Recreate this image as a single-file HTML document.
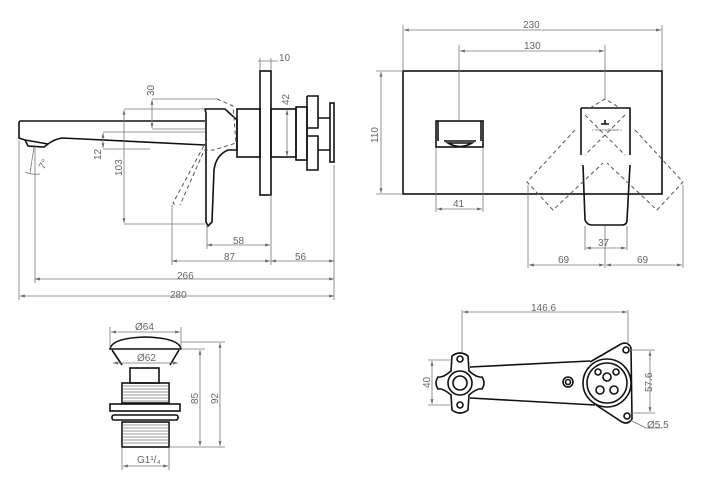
<!DOCTYPE html>
<html><head><meta charset="utf-8"><style>
html,body{margin:0;padding:0;background:#fff;width:720px;height:479px;overflow:hidden}
svg{display:block}
.o{fill:none;stroke:#111;stroke-width:1.6}
.d{fill:none;stroke:#777;stroke-width:0.8}
.h{fill:none;stroke:#555;stroke-width:1;stroke-dasharray:4,3}
text{font-family:"Liberation Sans",sans-serif;font-size:10px;fill:#666}
</style></head><body>
<svg width="720" height="479" viewBox="0 0 720 479">
<defs><marker id="a" viewBox="0 0 10 10" refX="10" refY="5" markerWidth="6" markerHeight="6" orient="auto-start-reverse"><path d="M0,2 L10,5 L0,8" fill="#666"/></marker></defs>

<!-- SIDE VIEW -->
<path class="o" d="M205,121 L21,121 Q19,121 19,123 L19,138 L25,140 L28,146 L44,147 L48,144 Q55,139 62,138 L205,145"/>
<path class="o" d="M25,140 L48,144"/>
<path class="o" d="M205,109 L225,109 L237,120 L237,150 L228,150 Q216,155 214,170 L212,222 L208,226 L206,222 L206,113 Z"/>
<rect class="o" x="237" y="109" width="23" height="48"/>
<rect class="o" x="260" y="71" width="11" height="124"/>
<rect class="o" x="271" y="109" width="25" height="48"/>
<rect class="o" x="296" y="107" width="11" height="53"/>
<path class="o" d="M307,96 L318,96 L318,128 L307,128 M307,136 L318,136 L318,170 L307,170 Z M307,96 L307,170"/>
<path class="o" d="M318,118 L330,118 M318,150 L330,150"/>
<rect class="o" x="330" y="103" width="4" height="59"/>
<path class="h" d="M217,99 L233,106 L236,143 L214,150 L204,150 M207,140 L173,203 L177,207 M203,153 L180,205"/>
<path class="d" d="M19,140 V300 M35,145 V283 M334,165 V300 M271,195 V265 M207,225 V249 M172,205 V265 M260,58 V70 M271,58 V70 M124,109 H205 M124,224 H205 M152,99 H217 M152,129 H205 M103,132 H205 M103,149 H150"/>
<line class="d" x1="20" y1="296" x2="334" y2="296" marker-start="url(#a)" marker-end="url(#a)"/>
<line class="d" x1="35" y1="279" x2="334" y2="279" marker-start="url(#a)" marker-end="url(#a)"/>
<line class="d" x1="172" y1="261" x2="270" y2="261" marker-start="url(#a)" marker-end="url(#a)"/>
<line class="d" x1="271" y1="261" x2="334" y2="261" marker-start="url(#a)" marker-end="url(#a)"/>
<line class="d" x1="207" y1="245" x2="270" y2="245" marker-start="url(#a)" marker-end="url(#a)"/>
<line class="d" x1="124" y1="110" x2="124" y2="223" marker-start="url(#a)" marker-end="url(#a)"/>
<line class="d" x1="152" y1="100" x2="152" y2="128" marker-start="url(#a)" marker-end="url(#a)"/>
<line class="d" x1="103" y1="133" x2="103" y2="148" marker-start="url(#a)" marker-end="url(#a)"/>
<line class="d" x1="287" y1="110" x2="287" y2="156" marker-start="url(#a)" marker-end="url(#a)"/>
<line class="d" x1="258" y1="61" x2="278" y2="61"/>
<path class="d" d="M34,147 L30,173 M25,172 Q32,175 40,174"/>
<text x="170" y="298">280</text>
<text x="177" y="279">266</text>
<text x="224" y="260">87</text>
<text x="295" y="260">56</text>
<text x="233" y="244">58</text>
<text x="279" y="61">10</text>
<text x="44" y="170" font-size="9" transform="rotate(-60 44 170)">7°</text>
<text transform="translate(122,176) rotate(-90)">103</text>
<text transform="translate(154,96) rotate(-90)">30</text>
<text transform="translate(101,160) rotate(-90)">12</text>
<text transform="translate(289,105) rotate(-90)">42</text>

<!-- FRONT VIEW -->
<rect class="o" x="403" y="71" width="259" height="123"/>
<rect class="o" x="436" y="121" width="47" height="26"/>
<path class="o" d="M438,121 V141 M481,121 V141 M444,141 H476 M448,143 Q460,150 472,143 Z"/>
<path class="o" d="M581,108 H630 V155 M581,108 V155 M583,165 L585,220 Q587,225 592,225 L622,225 Q627,225 627,220 L630,165"/>
<path class="h" d="M590,108 L605,99 L620,108 M575,130 L527,182 L553,210 L603,163 M635,130 L683,182 L657,210 L607,163 M585,115 L625,155 M625,115 L585,155"/>
<g transform="translate(592,131) scale(0.4)"><text x="0" y="0" font-size="10" fill="#222">• Villeroy&amp;Boch •</text></g>
<path class="o" d="M601,124 H609 M605,120 V124" stroke-width="1"/>
<path class="d" d="M403,25 V70 M662,25 V70 M459,45 V120 M605,45 V100 M376,71 H403 M376,194 H403 M436,148 V212 M483,148 V212 M585,226 V250 M627,226 V250 M528,185 V268 M683,185 V268 M605,226 V268"/>
<line class="d" x1="404" y1="30" x2="661" y2="30" marker-start="url(#a)" marker-end="url(#a)"/>
<line class="d" x1="460" y1="51" x2="604" y2="51" marker-start="url(#a)" marker-end="url(#a)"/>
<line class="d" x1="381" y1="72" x2="381" y2="193" marker-start="url(#a)" marker-end="url(#a)"/>
<line class="d" x1="437" y1="209" x2="482" y2="209" marker-start="url(#a)" marker-end="url(#a)"/>
<line class="d" x1="586" y1="248" x2="626" y2="248" marker-start="url(#a)" marker-end="url(#a)"/>
<line class="d" x1="529" y1="265" x2="604" y2="265" marker-start="url(#a)" marker-end="url(#a)"/>
<line class="d" x1="606" y1="265" x2="682" y2="265" marker-start="url(#a)" marker-end="url(#a)"/>
<text x="523" y="28">230</text>
<text x="524" y="49">130</text>
<text x="453" y="207">41</text>
<text x="598" y="246">37</text>
<text x="558" y="263">69</text>
<text x="637" y="263">69</text>
<text transform="translate(378,143) rotate(-90)">110</text>

<!-- WASTE -->
<path class="o" d="M110,349 Q112,338 145,337 Q179,338 181,349 Z"/>
<path class="o" d="M112,350 L122,365 M179,350 L170,365"/>
<rect class="o" x="130" y="368" width="29" height="15"/>
<rect class="o" x="122" y="383" width="47" height="20"/>
<rect class="o" x="110" y="404" width="70" height="7"/>
<rect class="o" x="112" y="415" width="66" height="5" rx="2"/>
<rect class="o" x="122" y="422" width="47" height="25"/>
<path class="d" d="M122,386H169M122,389H169M122,392H169M122,395H169M122,398H169M122,401H169M122,425H169M122,428H169M122,431H169M122,434H169M122,437H169M122,440H169M122,443H169"/>
<path class="d" d="M110,327 V348 M181,327 V348 M181,342 H225 M181,349 H205 M169,447 H225 M122,448 V470 M169,448 V470"/>
<line class="d" x1="111" y1="332" x2="180" y2="332" marker-start="url(#a)" marker-end="url(#a)"/>
<line class="d" x1="113" y1="363" x2="178" y2="363" marker-start="url(#a)" marker-end="url(#a)"/>
<line class="d" x1="200" y1="350" x2="200" y2="446" marker-start="url(#a)" marker-end="url(#a)"/>
<line class="d" x1="220" y1="343" x2="220" y2="446" marker-start="url(#a)" marker-end="url(#a)"/>
<line class="d" x1="123" y1="466" x2="168" y2="466" marker-start="url(#a)" marker-end="url(#a)"/>
<text x="135" y="330">Ø64</text>
<text x="137" y="361">Ø62</text>
<text x="137" y="463">G1¹/₄</text>
<text transform="translate(198,404) rotate(-90)">85</text>
<text transform="translate(218,404) rotate(-90)">92</text>

<!-- BRACKET -->
<path class="o" d="M451,371 Q443,378 438,377 Q434,383 438,389 Q443,388 451,395 L452,410 Q460,416 468,410 L469,395 Q477,388 482,389 Q486,383 482,377 Q477,378 469,371 L468,356 Q460,350 452,356 Z"/>
<circle class="o" cx="460" cy="359" r="3"/>
<circle class="o" cx="460" cy="405" r="3"/>
<circle class="o" cx="460" cy="383" r="12"/>
<circle class="o" cx="460" cy="383" r="7"/>
<path class="o" d="M470,367 L590,361 M470,398 L595,405"/>
<circle class="o" cx="568" cy="382" r="5"/>
<circle class="o" cx="568" cy="382" r="2.5"/>
<path class="o" d="M590,362 L621,344 Q628,341 631,348 L632,419 Q628,425 622,422 L596,405"/>
<circle class="o" cx="626" cy="350" r="3"/>
<circle class="o" cx="627" cy="416" r="3"/>
<circle class="o" cx="607" cy="383" r="24"/>
<circle class="o" cx="607" cy="383" r="20"/>
<circle class="o" cx="607" cy="377" r="4"/>
<circle class="o" cx="598" cy="372" r="3"/>
<circle class="o" cx="616" cy="372" r="3"/>
<circle class="o" cx="600" cy="390" r="4"/>
<circle class="o" cx="614" cy="390" r="4"/>
<path class="d" d="M462,310 V353 M628,310 V344 M428,360 H452 M428,405 H452 M630,350 H655 M630,413 H655 M630,420 L646,428 H662"/>
<line class="d" x1="463" y1="312" x2="627" y2="312" marker-start="url(#a)" marker-end="url(#a)"/>
<line class="d" x1="432" y1="361" x2="432" y2="404" marker-start="url(#a)" marker-end="url(#a)"/>
<line class="d" x1="650" y1="351" x2="650" y2="412" marker-start="url(#a)" marker-end="url(#a)"/>
<text x="531" y="311">146.6</text>
<text x="647" y="428">Ø5.5</text>
<text transform="translate(430,388) rotate(-90)">40</text>
<text transform="translate(652,392) rotate(-90)">57.6</text>
</svg>
</body></html>
